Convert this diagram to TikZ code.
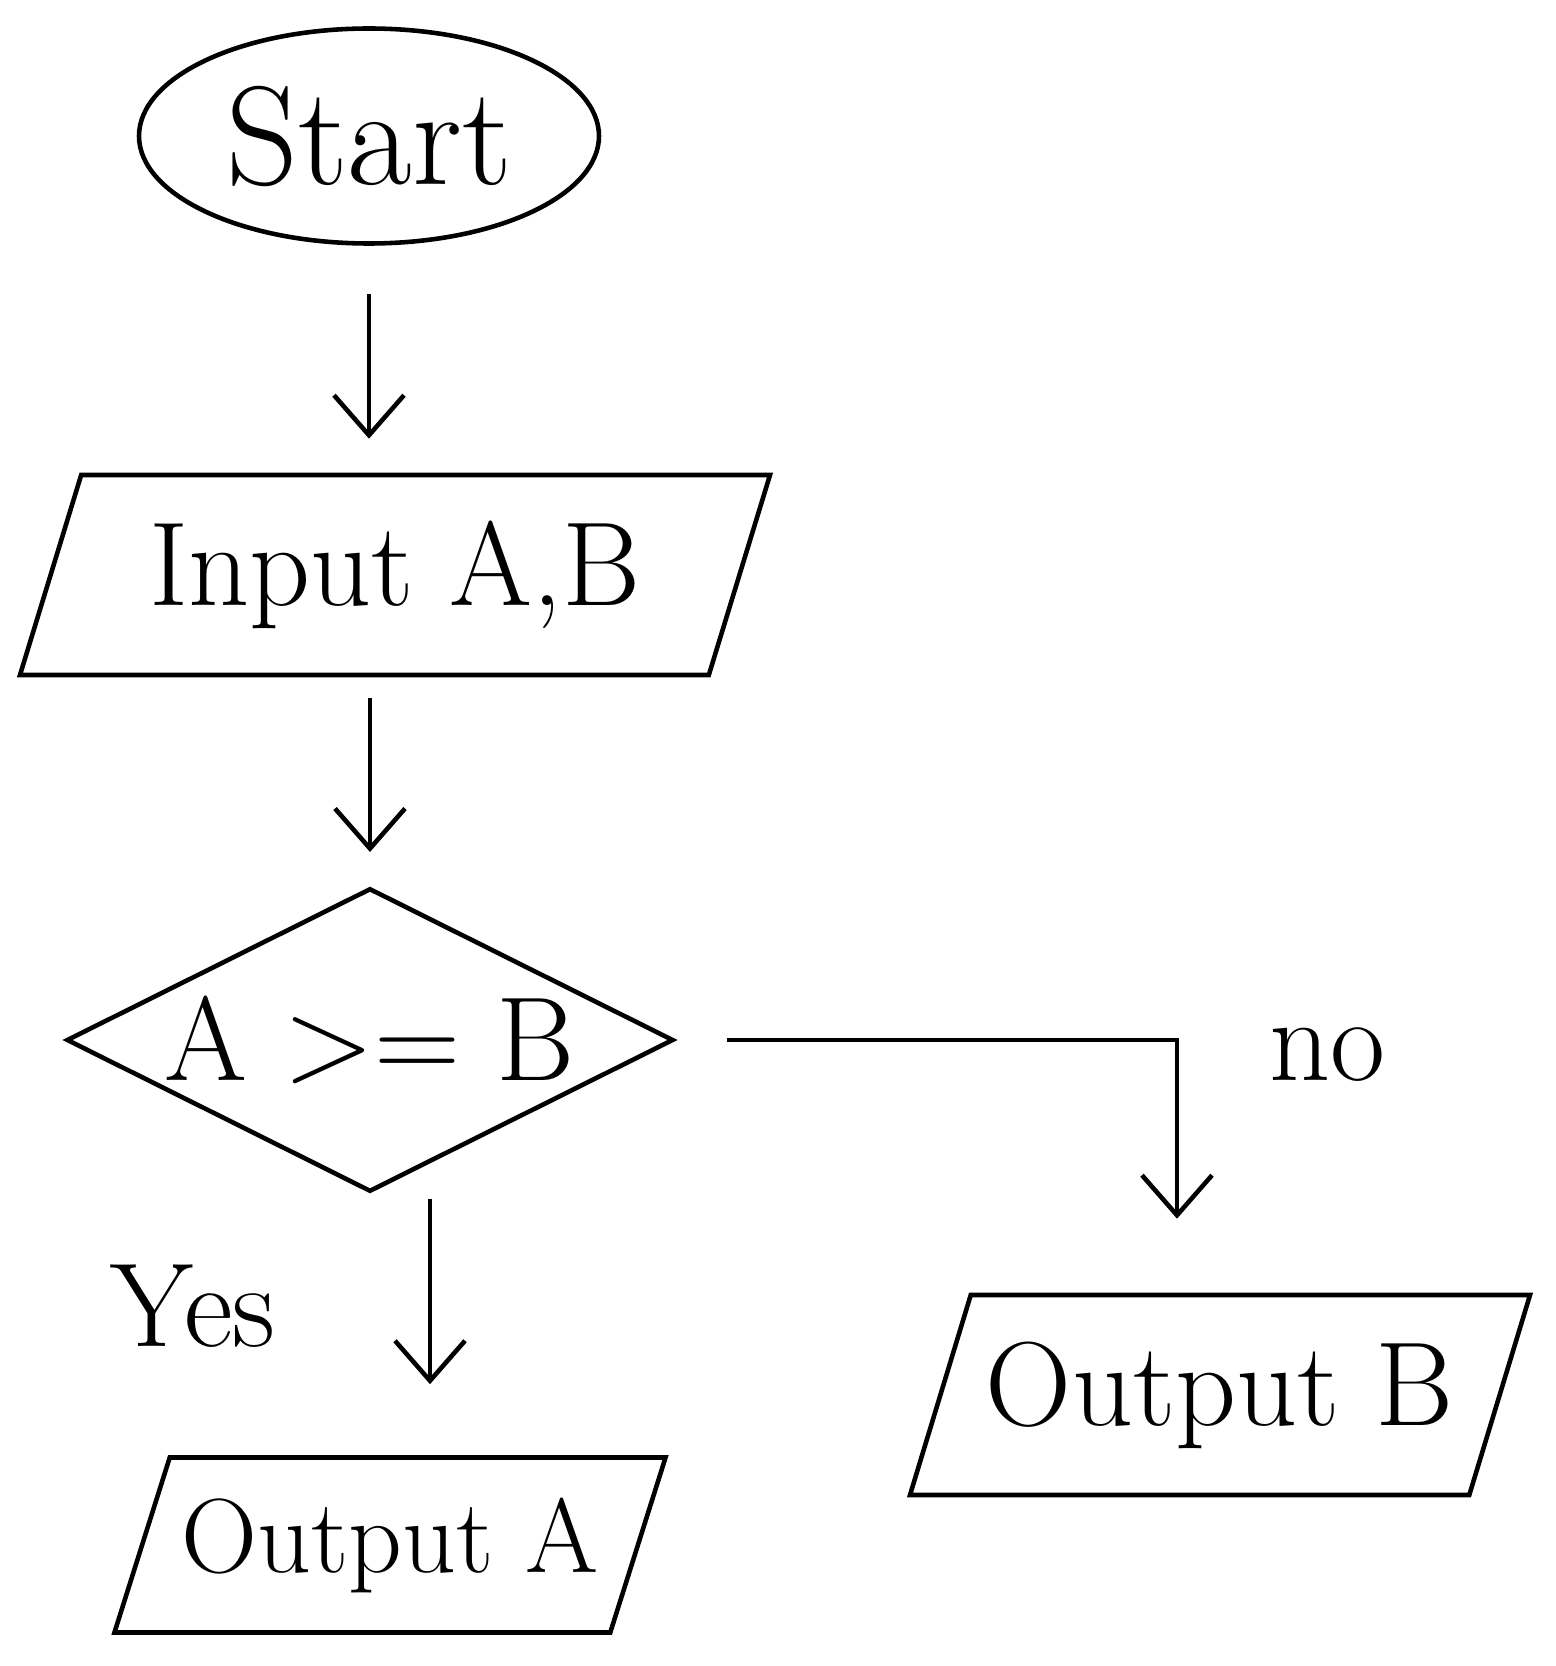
\documentclass[tikz,border=0pt]{standalone}
\usetikzlibrary{shapes.geometric,arrows.meta}
\newlength{\penwidth}
\setlength{\penwidth}{1.3pt}
\tikzset{
    startstop/.style={draw, ellipse, line width=\penwidth, minimum width=4.6cm, minimum height=2.15cm, font=\fontsize{40}{48}\selectfont},
    io/.style={draw, trapezium, trapezium left angle=65, trapezium right angle=115, trapezium stretches body, line width=\penwidth, font=\fontsize{34}{40}\selectfont},
    decision/.style={draw, diamond, aspect=2, inner sep=1pt, line width=\penwidth, minimum width=5.86cm, minimum height=2.9cm, font=\fontsize{34}{40}\selectfont},
    flow/.style={line width=\penwidth, -{Straight Barb[length=4mm, width=7mm]}},
    branch/.style={font=\fontsize{34}{40}\selectfont}
}
\begin{document}
\begin{tikzpicture}
    \useasboundingbox (0,0) rectangle (15.55,-16.66);

    \node[startstop] (start) at (3.69,-1.36) {Start};
    \node[io, minimum width=7.5cm, minimum height=2cm] (input) at (3.95,-5.75) {Input A,B};
    \node[decision] (compare) at (3.7,-10.4) {A >= B};
    \node[io, minimum width=4.9cm, minimum height=1.75cm, font=\fontsize{30}{36}\selectfont] (outa) at (3.9,-15.45) {Output A};
    \node[io, minimum width=6.2cm, minimum height=2cm] (outb) at (12.2,-13.95) {Output B};
    \coordinate (nocol) at (11.77,0);

    \node[branch] (yes) at (1.93,-13.06) {Yes};
    \node[branch] (no) at (13.27,-10.55) {no};

    \draw[flow, shorten <=0.48cm, shorten >=0.34cm] (start.south) -- (start.south |- input.north);
    \draw[flow, shorten <=0.21cm, shorten >=0.34cm] (input.south -| compare.north) -- (compare.north);
    \draw[flow, shorten <=0.05cm, shorten >=0.71cm] ([xshift=0.6cm]compare.south) -- ([xshift=0.6cm]compare.south |- outa.north);
    \draw[flow, shorten <=0.51cm, shorten >=0.74cm] (compare.east) -- (compare.east -| nocol) -- (outb.north -| nocol);
\end{tikzpicture}
\end{document}
